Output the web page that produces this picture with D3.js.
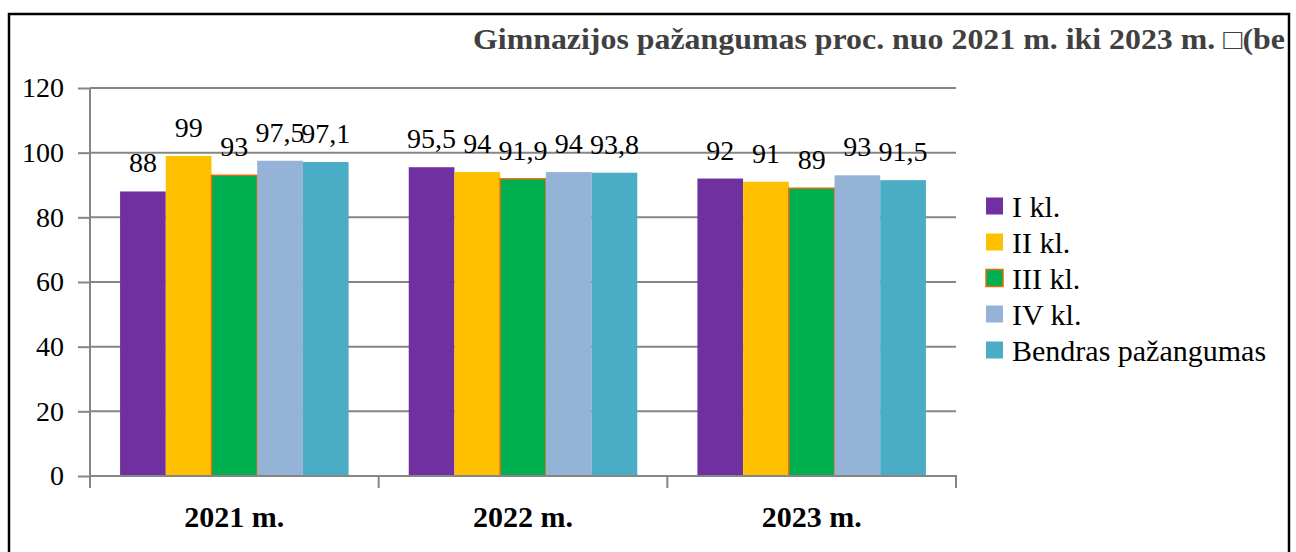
<!DOCTYPE html>
<html><head><meta charset="utf-8">
<script src="https://cdn.jsdelivr.net/npm/d3@7"></script>
<style>
html,body{margin:0;padding:0;background:#fff;}
svg{display:block;}
svg text{font-family:"Liberation Serif","DejaVu Serif","Times New Roman",Times,serif;}
</style></head>
<body>
<svg id="chart" width="1296" height="552"></svg>
<script>
const categories = ["2021 m.", "2022 m.", "2023 m."];
const seriesNames = ["I kl.", "II kl.", "III kl.", "IV kl.", "Bendras pažangumas"];
const seriesColors = ["#7030A0", "#FFC000", "#00B050", "#95B3D7", "#4BACC6"];
const seriesStroke = [null, null, "#E46C0A", null, null];
const valuesIkl = [88, 95.5, 92];
const valuesIIkl = [99, 94, 91];
const valuesIIIkl = [93, 91.9, 89];
const valuesIVkl = [97.5, 94, 93];
const valuesBendras = [97.1, 93.8, 91.5];
const yTicks = [0, 20, 40, 60, 80, 100, 120];
const titleText = "Gimnazijos pažangumas proc. nuo 2021 m. iki 2023 m. \u25A1(be";

const seriesValues = [valuesIkl, valuesIIkl, valuesIIIkl, valuesIVkl, valuesBendras];
const FONT = "'Liberation Serif', 'DejaVu Serif', 'Times New Roman', serif";

const svg = d3.select("#chart");
const L = 90, R = 956, T = 88, B = 476;

svg.append("rect").attr("x",9).attr("y",14).attr("width",1280).attr("height",600)
  .attr("fill","none").attr("stroke","#000").attr("stroke-width",2.5);

const x0 = d3.scaleBand().domain(categories).range([L, R]).paddingInner(0).paddingOuter(0);
const x1 = d3.scaleBand().domain(d3.range(seriesNames.length)).range([0, x0.bandwidth()]).paddingOuter(0.658).paddingInner(0);
const y = d3.scaleLinear().domain([0, 120]).range([B, T]);

svg.append("g").selectAll("line").data(yTicks.filter(d=>d>0)).join("line")
  .attr("x1", L).attr("x2", R).attr("y1", d=>y(d)).attr("y2", d=>y(d))
  .attr("stroke", "#868686").attr("stroke-width", 2);

const yAxis = svg.append("g").attr("transform", `translate(${L},0)`)
  .call(d3.axisLeft(y).tickValues(yTicks).tickSize(12).tickPadding(14).tickFormat(d3.format("d")));
yAxis.attr("font-family", FONT);
yAxis.select(".domain").attr("stroke","#868686").attr("stroke-width",2).attr("d", `M0,${T}V${B+12}`);
yAxis.selectAll(".tick line").attr("stroke","#868686").attr("stroke-width",2);
yAxis.selectAll(".tick text").attr("font-size", 28).attr("fill","#000").attr("font-family", FONT);

const groups = svg.append("g").selectAll("g").data(categories).join("g")
  .attr("transform", d=>`translate(${x0(d)},0)`);
groups.selectAll("rect").data((c,ci)=>seriesValues.map((vals,si)=>({si, v: vals[ci]}))).join("rect")
  .attr("x", d=>x1(d.si)).attr("width", x1.bandwidth())
  .attr("y", d=>y(d.v)).attr("height", d=>B - y(d.v))
  .attr("fill", d=>seriesColors[d.si])
  .attr("stroke", d=>seriesStroke[d.si] || "none").attr("stroke-width", 1.5);

const xAxis = svg.append("g").attr("transform", `translate(0,${B})`);
xAxis.append("line").attr("x1", L).attr("x2", R+1).attr("y1",0).attr("y2",0)
  .attr("stroke","#868686").attr("stroke-width",2);
const bounds = categories.map(c=>x0(c)).concat([R]);
xAxis.selectAll("line.tk").data(bounds).join("line").attr("class","tk")
  .attr("x1", d=>d).attr("x2", d=>d).attr("y1",0).attr("y2",12)
  .attr("stroke","#868686").attr("stroke-width",2);
xAxis.selectAll("text").data(categories).join("text")
  .attr("x", d=>x0(d)+x0.bandwidth()/2).attr("y", 51)
  .attr("text-anchor","middle").attr("font-weight","bold").attr("font-size",30)
  .attr("font-family", FONT).text(d=>d);

groups.selectAll("text").data((c,ci)=>seriesValues.map((vals,si)=>({si, v: vals[ci]}))).join("text")
  .attr("x", d=>x1(d.si)+x1.bandwidth()/2).attr("y", d=>y(d.v)-19)
  .attr("text-anchor","middle").attr("font-size",28).attr("fill","#000")
  .attr("font-family", FONT).text(d=>String(d.v).replace(".", ","));

svg.append("text")
  .attr("x", 473).attr("y", 49).attr("font-weight","bold").attr("font-size",29)
  .attr("textLength", 812).attr("lengthAdjust","spacingAndGlyphs")
  .attr("font-family", FONT).attr("fill","#404040").text(titleText);

const leg = svg.append("g").selectAll("g").data(seriesNames).join("g")
  .attr("transform", (d,i)=>`translate(986,${206 + i*36})`);
leg.append("rect").attr("x",0).attr("y",-8.5).attr("width",17).attr("height",17)
  .attr("fill", (d,i)=>seriesColors[i])
  .attr("stroke", (d,i)=>seriesStroke[i] || "none").attr("stroke-width",1.5);
leg.append("text").attr("x",26).attr("y",0).attr("dy","0.35em")
  .attr("font-size",30).attr("fill","#000").attr("font-family", FONT).text(d=>d);
</script>
</body></html>
